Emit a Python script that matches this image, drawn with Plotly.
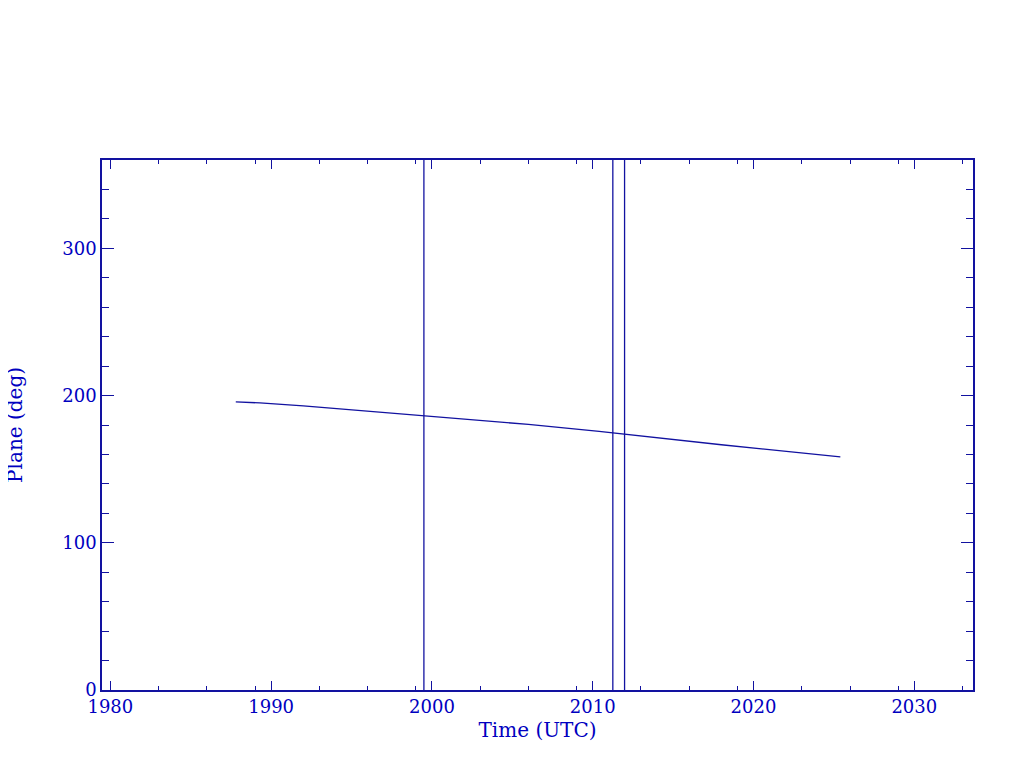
import plotly.graph_objects as go

# Data
curve_years = [1987.8, 1989.3, 1992.0, 1996.7, 2001.7, 2006.0, 2010.4, 2014.1, 2018.0, 2022.2, 2025.4]
curve_plane = [195.7, 195.0, 193.0, 188.9, 184.6, 180.4, 175.7, 171.2, 166.6, 161.9, 158.3]
event_years = [1999.5, 2011.25, 2011.98]
x_ticks = [1980, 1990, 2000, 2010, 2020, 2030]
x_minor = [1983, 1986, 1989, 1993, 1996, 1999, 2003, 2006, 2009, 2013, 2016, 2019,
           2023, 2026, 2029, 2033]
y_ticks = [0, 100, 200, 300]

LINE = "#1212a0"
TEXT = "#0000c0"
FONT = "DejaVu Serif"

fig = go.Figure()
fig.add_trace(go.Scatter(x=curve_years, y=curve_plane, mode="lines",
                         line=dict(color=LINE, width=1.3), showlegend=False,
                         hoverinfo="skip"))
for ex in event_years:
    fig.add_trace(go.Scatter(x=[ex, ex], y=[0, 360], mode="lines",
                             line=dict(color=LINE, width=1.3), showlegend=False,
                             hoverinfo="skip"))

fig.update_layout(
    width=1024, height=768,
    margin=dict(l=94, r=59, t=152, b=86),
    paper_bgcolor="white", plot_bgcolor="white",
    font=dict(family=FONT, color=TEXT, size=17),
    showlegend=False,
)
fig.update_xaxes(
    range=[1979.48, 2033.65], tickvals=x_ticks, ticktext=[str(v) for v in x_ticks],
    ticks="inside", ticklen=9, tickwidth=1.3, tickcolor=LINE,
    minor=dict(tickvals=x_minor, ticks="inside", ticklen=4, tickwidth=1.3, tickcolor=LINE),
    showline=True, linecolor=LINE, linewidth=1.5, mirror="allticks",
    showgrid=False, zeroline=False, automargin=False,
    tickfont=dict(family=FONT, size=18, color=TEXT),
    title=dict(text="Time (UTC)", font=dict(family=FONT, size=20, color=TEXT), standoff=7),
)
fig.update_yaxes(
    range=[0, 360], tickvals=y_ticks, ticktext=[str(v) for v in y_ticks],
    ticks="inside", ticklen=12, tickwidth=1.3, tickcolor=LINE,
    minor=dict(dtick=20, tick0=0, ticks="inside", ticklen=7, tickwidth=1.3, tickcolor=LINE),
    showline=True, linecolor=LINE, linewidth=1.5, mirror="allticks",
    showgrid=False, zeroline=False, automargin=False,
    tickfont=dict(family=FONT, size=18, color=TEXT),
)
fig.add_annotation(
    text="Plane (deg)", xref="paper", yref="paper", x=-0.1, y=0.5,
    xanchor="center", yanchor="middle", textangle=-90, showarrow=False,
    font=dict(family=FONT, size=20, color=TEXT),
)

fig.write_html("out.html")
